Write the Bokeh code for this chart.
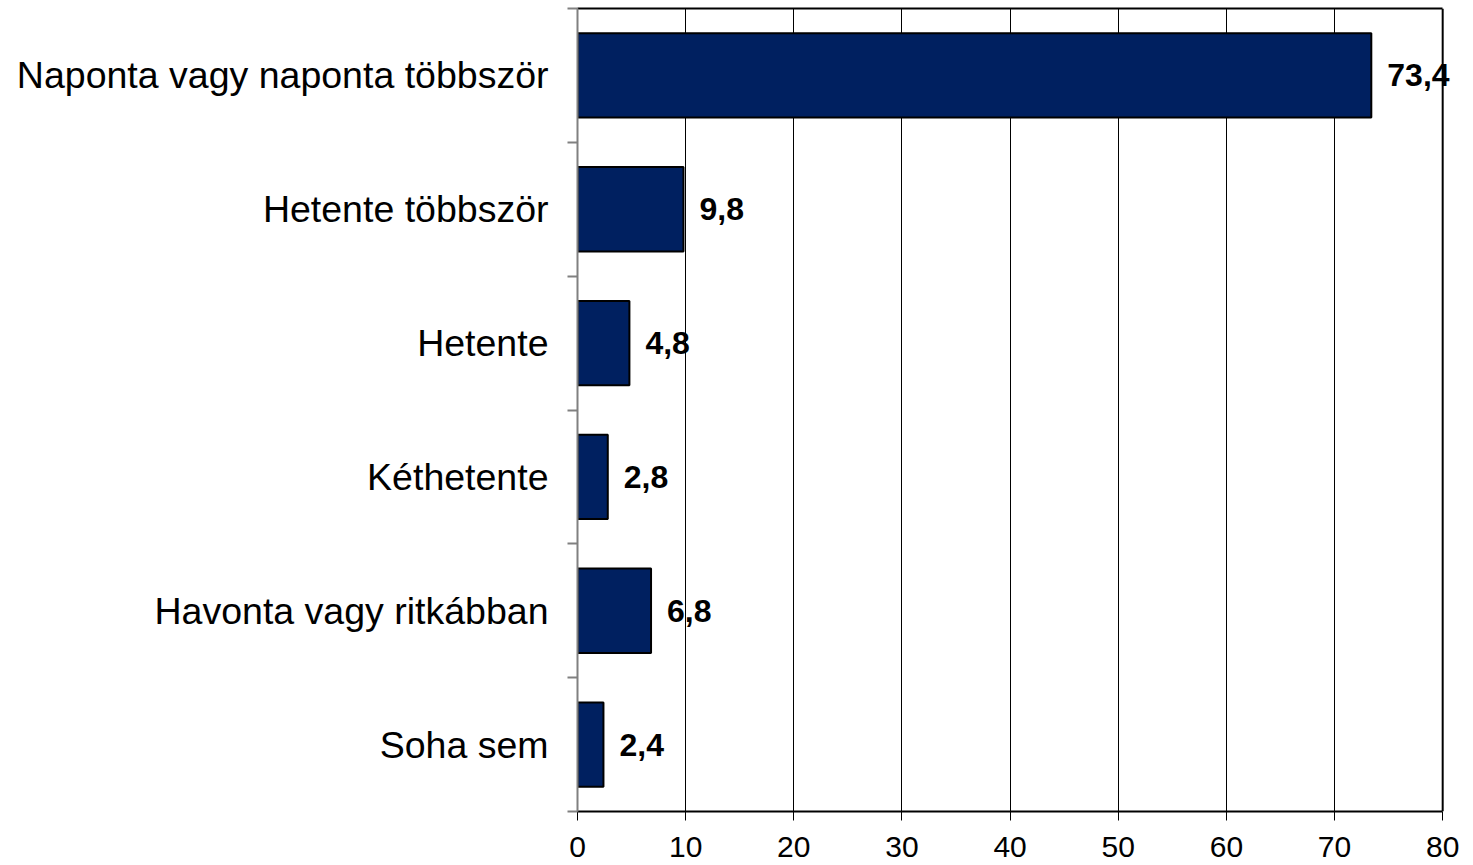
from bokeh.plotting import figure
from bokeh.models import Range1d, FixedTicker, ColumnDataSource, LabelSet, LinearAxis, Span
from bokeh.core.properties import value
from bokeh.embed import file_html
from bokeh.resources import INLINE

categories = ["Naponta vagy naponta többször", "Hetente többször", "Hetente",
              "Kéthetente", "Havonta vagy ritkábban", "Soha sem"]
values = [73.4, 9.8, 4.8, 2.8, 6.8, 2.4]
value_labels = ["73,4", "9,8", "4,8", "2,8", "6,8", "2,4"]
x_ticks = [0, 10, 20, 30, 40, 50, 60, 70, 80]
x_max = 80

n = len(categories)
ypos = [n - 0.5 - i for i in range(n)]

# frame extended by 1 unit past 80 so value labels are not clipped
p = figure(width=1473, height=865, output_backend="svg", toolbar_location=None,
           x_range=Range1d(0, x_max + 1), y_range=Range1d(0, n),
           min_border_left=577, min_border_right=20, min_border_top=8, min_border_bottom=54)
p.outline_line_color = None

src = ColumnDataSource(dict(y=ypos, v=values, lab=value_labels))
p.hbar(y="y", left=0, right="v", height=0.63, source=src,
       fill_color="#002060", line_color="black", line_width=2)

labels = LabelSet(x="v", y="y", text="lab", source=src, x_offset=16,
                  text_font=value("Liberation Sans"), text_font_style="bold",
                  text_font_size="32px", text_baseline="middle", text_color="black")
p.add_layout(labels)

# right border at 80
p.add_layout(Span(location=x_max, dimension="height", line_color="black",
                  line_width=2, level="overlay"))

# top border
top = LinearAxis(ticker=FixedTicker(ticks=[], minor_ticks=[]), bounds=(0, x_max))
top.axis_line_color = "black"
top.axis_line_width = 2
top.major_tick_line_color = None
top.minor_tick_line_color = None
top.major_tick_out = 0
top.major_tick_in = 0
top.minor_tick_out = 0
top.major_label_standoff = 0
p.add_layout(top, "above")

# x axis
bottom = p.below[0]
bottom.ticker = FixedTicker(ticks=x_ticks)
bottom.bounds = (0, x_max)
bottom.axis_line_color = "black"
bottom.axis_line_width = 2
bottom.major_tick_in = 0
bottom.major_tick_out = 9
bottom.major_tick_line_color = "black"
bottom.minor_tick_line_color = None
bottom.major_label_text_font = "Liberation Sans"
bottom.major_label_text_font_size = "30px"
bottom.major_label_text_color = "black"
bottom.major_label_standoff = 16

# y axis
p.yaxis.ticker = FixedTicker(ticks=ypos, minor_ticks=list(range(n + 1)))
p.yaxis.major_label_overrides = {y: c for y, c in zip(ypos, categories)}
p.yaxis.axis_line_color = "#808080"
p.yaxis.axis_line_width = 2
p.yaxis.major_tick_line_color = None
p.yaxis.major_tick_in = 0
p.yaxis.major_tick_out = 0
p.yaxis.minor_tick_in = 0
p.yaxis.minor_tick_out = 10
p.yaxis.minor_tick_line_color = "#808080"
p.yaxis.minor_tick_line_width = 2
p.yaxis.major_label_text_font = "Liberation Sans"
p.yaxis.major_label_text_font_size = "37.5px"
p.yaxis.major_label_text_color = "black"
p.yaxis.major_label_standoff = 19

p.xgrid.ticker = FixedTicker(ticks=[t for t in x_ticks if 0 < t < x_max])
p.xgrid.grid_line_color = "black"
p.xgrid.grid_line_width = 1
p.ygrid.grid_line_color = None

open("out.html", "w").write(file_html(p, INLINE))
